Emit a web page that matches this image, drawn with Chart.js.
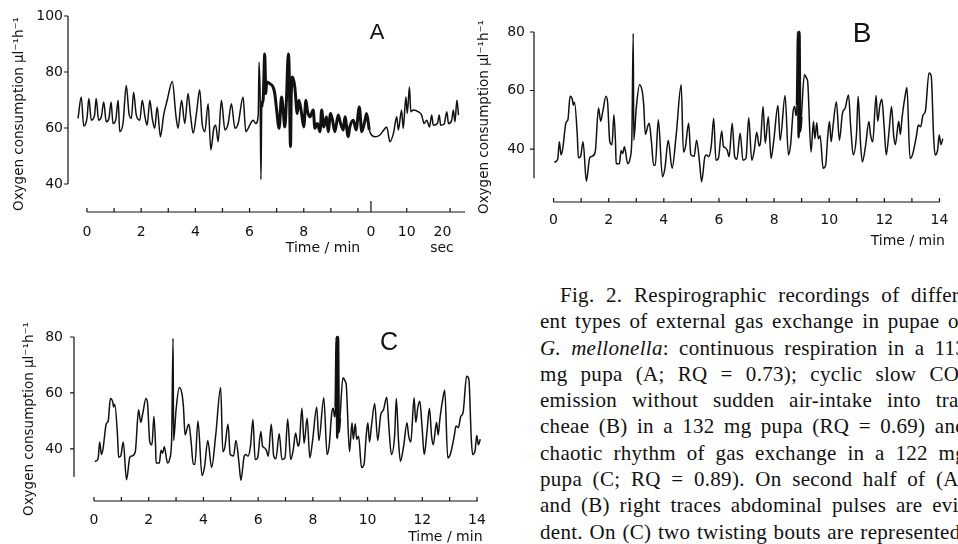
<!DOCTYPE html>
<html>
<head>
<meta charset="utf-8">
<script src="https://cdn.jsdelivr.net/npm/chart.js@4.4.1/dist/chart.umd.min.js"></script>
<style>
  html, body { margin: 0; padding: 0; background: #fff; }
  body { width: 958px; height: 544px; overflow: hidden; position: relative;
         font-family: "DejaVu Sans", sans-serif; color: #111; }
  canvas { position: absolute; }
  .lbl { position: absolute; font-size: 14px; line-height: 14px; white-space: nowrap;
         transform: translate(-50%, -50%); }
  .letter { position: absolute; line-height: 1; transform: translate(-50%, -50%);
            font-family: "Liberation Sans", Arial, sans-serif; }
  .caption { position: absolute; left: 540px; top: 282px; color: #111;
             font-family: "Liberation Serif", "Times New Roman", serif;
             font-size: 21px; line-height: 26.3px; letter-spacing: 0.3px; }
  .caption div { width: 426px; text-align: justify; text-align-last: justify; }
  .caption div.first { width: 406px; margin-left: 20px; }
</style>
</head>
<body>
<canvas id="chartA" width="480" height="270" style="left:0;top:0"></canvas>
<canvas id="chartB" width="483" height="260" style="left:475px;top:0"></canvas>
<canvas id="chartC" width="500" height="274" style="left:0;top:270px"></canvas>

<div class="letter" style="left:377px;top:32px;font-size:22px">A</div>
<div class="letter" style="left:862px;top:33px;font-size:28px">B</div>
<div class="letter" style="left:389px;top:341px;font-size:25px">C</div>
<div class="lbl" style="left:323px;top:247px">Time / min</div>
<div class="lbl" style="left:442px;top:247px">sec</div>

<div class="caption">
  <div class="first">Fig. 2. Respirographic recordings of differ-</div>
  <div>ent types of external gas exchange in pupae of</div>
  <div><i>G. mellonella</i>: continuous respiration in a 113</div>
  <div>mg pupa (A; RQ = 0.73); cyclic slow CO<sub style="font-size:13px;line-height:0">2</sub></div>
  <div>emission without sudden air-intake into tra-</div>
  <div>cheae (B) in a 132 mg pupa (RQ = 0.69) and</div>
  <div>chaotic rhythm of gas exchange in a 122 mg</div>
  <div>pupa (C; RQ = 0.89). On second half of (A)</div>
  <div>and (B) right traces abdominal pulses are evi-</div>
  <div>dent. On (C) two twisting bouts are represented.</div>
</div>

<script>
// panel A: time in minutes; after 10.48 the axis switches to seconds (0, 10, 20 s)
const traceA = [
  [-0.33, 63.4], [-0.21, 71.1], [-0.12, 60.7], [0, 63.4], [0.07, 70.5], [0.16, 62.8],
  [0.28, 64.6], [0.34, 70.5], [0.43, 62.8], [0.53, 64.0], [0.62, 69.3], [0.71, 62.2],
  [0.81, 63.4], [0.89, 69.3], [0.96, 61.6], [1.06, 62.8], [1.15, 69.9], [1.21, 58.7],
  [1.33, 61.6], [1.45, 75.2], [1.55, 65.2], [1.64, 63.4], [1.72, 72.8], [1.82, 64.6],
  [1.95, 62.8], [2.04, 69.9], [2.14, 64.0], [2.22, 61.0], [2.32, 69.9], [2.41, 63.4],
  [2.50, 59.9], [2.59, 67.5], [2.71, 56.9], [2.83, 64.6], [2.96, 69.9], [3.15, 76.6],
  [3.28, 64.6], [3.36, 59.9], [3.49, 69.9], [3.61, 61.6], [3.73, 72.3], [3.82, 64.6],
  [3.92, 58.1], [4.04, 65.2], [4.16, 73.7], [4.25, 61.6], [4.35, 58.7], [4.47, 68.7],
  [4.57, 52.2], [4.68, 59.9], [4.75, 61.0], [4.84, 55.1], [4.96, 69.9], [5.09, 59.3],
  [5.21, 61.6], [5.33, 68.7], [5.46, 59.9], [5.58, 61.6], [5.76, 71.1], [5.86, 58.7],
  [5.95, 59.9], [6.07, 62.2], [6.13, 62.8], [6.23, 61.6], [6.32, 64.6], [6.35, 83.5],
  [6.39, 71.1], [6.42, 41.6], [6.45, 67.5], [6.50, 69.9], [6.56, 86.4], [6.60, 72.3],
  [6.63, 76.4], [6.75, 75.8], [6.87, 74.6], [6.93, 72.3], [7.00, 66.4], [7.09, 59.9],
  [7.18, 71.1], [7.24, 66.4], [7.30, 60.4], [7.36, 69.9], [7.43, 86.4], [7.46, 81.7],
  [7.51, 53.4], [7.54, 72.3], [7.59, 78.2], [7.67, 74.6], [7.76, 65.2], [7.82, 69.9],
  [7.92, 65.2], [8.00, 60.4], [8.08, 69.9], [8.13, 66.4], [8.23, 64.0], [8.35, 66.4],
  [8.41, 59.9], [8.50, 61.6], [8.60, 58.7], [8.66, 66.4], [8.74, 60.4], [8.84, 64.0],
  [8.90, 58.7], [8.99, 65.2], [9.06, 62.8], [9.15, 58.7], [9.27, 64.6], [9.36, 61.6],
  [9.46, 59.3], [9.52, 64.0], [9.64, 56.9], [9.70, 60.4], [9.83, 62.8], [9.93, 59.3],
  [10.05, 67.5], [10.14, 58.7], [10.26, 62.8], [10.32, 65.2], [10.42, 59.3], [10.50, 57.5],
  [10.63, 56.9], [10.81, 57.5], [10.91, 58.7], [11.06, 60.4], [11.18, 55.1], [11.31, 58.1],
  [11.43, 64.0], [11.49, 59.3], [11.61, 66.4], [11.67, 59.9], [11.77, 71.1], [11.82, 65.2],
  [11.90, 74.6], [11.95, 65.8], [12.04, 66.4], [12.23, 65.8], [12.35, 64.6], [12.44, 61.6],
  [12.54, 62.8], [12.64, 60.4], [12.72, 64.6], [12.78, 61.0], [12.93, 61.6], [13.00, 64.6],
  [13.05, 61.0], [13.18, 61.4], [13.28, 65.8], [13.34, 61.6], [13.46, 62.8], [13.52, 66.4],
  [13.58, 62.2], [13.65, 69.9], [13.71, 64.6]
];

// panels B and C show the same recording
const traceBC = [
  [0.03, 35.5], [0.15, 36.5], [0.21, 42.5], [0.27, 38], [0.33, 40], [0.45, 49], [0.52, 50],
  [0.60, 58], [0.68, 57], [0.72, 55], [0.76, 56], [0.86, 44.8], [0.90, 37], [0.98, 37.5],
  [1.07, 42.5], [1.19, 29], [1.31, 37], [1.39, 37.5], [1.51, 39], [1.63, 54], [1.71, 49.5],
  [1.78, 52.5], [1.90, 58], [1.96, 56], [2.04, 42.5], [2.12, 41.5], [2.19, 51.7], [2.25, 41.4],
  [2.27, 35], [2.39, 35], [2.45, 39.5], [2.51, 38.5], [2.57, 40.8], [2.69, 35], [2.78, 37],
  [2.84, 43.7], [2.89, 79.5], [2.91, 43], [3.00, 54], [3.12, 62], [3.22, 59.5], [3.27, 55],
  [3.33, 45], [3.43, 48.2], [3.47, 48.8], [3.55, 42.5], [3.63, 34.5], [3.69, 34.5], [3.80, 50],
  [3.95, 30.5], [4.04, 33.5], [4.16, 43], [4.30, 33.4], [4.45, 45], [4.63, 62], [4.71, 39],
  [4.78, 40.5], [4.90, 48.8], [4.98, 38], [5.10, 37.5], [5.19, 43], [5.30, 35], [5.37, 28.8],
  [5.49, 37.4], [5.55, 38], [5.63, 37.4], [5.72, 41], [5.81, 50.5], [5.89, 36.2], [5.98, 36.8],
  [6.10, 46.2], [6.16, 41], [6.22, 40.5], [6.30, 39.6], [6.37, 37.4], [6.48, 48.8], [6.57, 37.4],
  [6.65, 36.5], [6.77, 45.4], [6.87, 36.2], [6.98, 36.8], [7.08, 50.7], [7.19, 36.2], [7.28, 39.5],
  [7.37, 45.7], [7.46, 41], [7.51, 42.5], [7.60, 54.5], [7.68, 42], [7.79, 51], [7.89, 36.8],
  [7.99, 43], [8.14, 54.9], [8.22, 43], [8.40, 58.3], [8.52, 38], [8.60, 41.5], [8.69, 52.8],
  [8.75, 54.5], [8.79, 51.5], [8.83, 55], [8.87, 80], [8.89, 44], [8.92, 80], [8.95, 46],
  [8.99, 51], [9.10, 65.4], [9.19, 64], [9.22, 63], [9.34, 39], [9.43, 49.4], [9.48, 43.5],
  [9.55, 49], [9.60, 43.5], [9.67, 44.5], [9.78, 33.4], [9.87, 34.5], [9.95, 44.8], [10.01, 49.4],
  [10.07, 42.5], [10.14, 48], [10.26, 56.2], [10.37, 43], [10.48, 52.2], [10.58, 54], [10.70, 58.5],
  [10.78, 47.6], [10.87, 38], [10.99, 45], [11.05, 58], [11.13, 43], [11.20, 35.6], [11.32, 41.2],
  [11.44, 49.4], [11.50, 44.8], [11.58, 42.5], [11.70, 58.3], [11.76, 49.5], [11.84, 55], [11.91, 57],
  [11.99, 48], [12.07, 38], [12.17, 46], [12.26, 54.5], [12.34, 44.5], [12.40, 41.5], [12.52, 49.5],
  [12.58, 45], [12.64, 50.5], [12.76, 58.5], [12.82, 61], [12.93, 36.8], [13.02, 38], [13.17, 44.8],
  [13.23, 48.2], [13.32, 47.6], [13.40, 51.5], [13.49, 53], [13.62, 66], [13.70, 65], [13.79, 43.7],
  [13.84, 38], [13.93, 39.5], [13.99, 44.8], [14.05, 41.5], [14.12, 43.5]
];

const yTicksA = [40, 60, 80, 100];
const yTicksBC = [40, 60, 80];
const xLabelPosA = [0, 2, 4, 6, 8, 10.48, 11.8, 13.12];
const xLabelsA = ['0', '2', '4', '6', '8', '0', '10', '20'];
const minuteTicksA = [0, 1, 2, 3, 4, 5, 6, 7, 8, 9, 10];
const secTicksA = [10.48, 11.8, 13.4];
const xLabelsBC = [0, 2, 4, 6, 8, 10, 12, 14];
const minuteTicksBC = [0, 1, 2, 3, 4, 5, 6, 7, 8, 9, 10, 11, 12, 13, 14];

const yTitle = 'Oxygen consumption µl⁻¹h⁻¹';

Chart.defaults.font.family = '"DejaVu Sans", sans-serif';
Chart.defaults.font.size = 14;
Chart.defaults.color = '#111';

// axis lines drawn apart from each other, ticks pointing into the plot
const sketchAxes = {
  id: 'sketchAxes',
  afterDraw(chart, args, o) {
    const { ctx } = chart;
    const x = chart.scales.x, y = chart.scales.y;
    const x0 = x.left, yb = y.bottom;
    ctx.save();
    ctx.strokeStyle = '#111';
    ctx.lineWidth = 1.2;
    ctx.beginPath();
    ctx.moveTo(x0, y.getPixelForValue(o.yFrom));
    ctx.lineTo(x0, y.getPixelForValue(o.yTo));
    o.yTicks.forEach(v => {
      const py = y.getPixelForValue(v);
      ctx.moveTo(x0 - 4, py);
      ctx.lineTo(x0, py);
    });
    ctx.moveTo(x.getPixelForValue(o.xFrom), yb);
    ctx.lineTo(x.getPixelForValue(o.xTo), yb);
    o.xTicks.forEach(v => {
      const px = x.getPixelForValue(v);
      ctx.moveTo(px, yb);
      ctx.lineTo(px, yb - 4);
    });
    (o.tallTicks || []).forEach(v => {
      const px = x.getPixelForValue(v);
      ctx.moveTo(px, yb);
      ctx.lineTo(px, yb - 11);
    });
    ctx.stroke();
    ctx.restore();
  }
};

function makeChart(id, c) {
  return new Chart(document.getElementById(id), {
    type: 'line',
    data: {
      datasets: [{
        data: c.trace.map(p => ({ x: p[0], y: p[1] })),
        borderColor: '#111',
        borderWidth: 1.5,
        pointRadius: 0,
        cubicInterpolationMode: 'monotone',
        clip: 6,
        segment: {
          borderWidth: s => (s.p0.parsed.x >= c.thick[0] && s.p1.parsed.x <= c.thick[1]) ? c.thickWidth : 1.5
        }
      }]
    },
    options: {
      responsive: false,
      animation: false,
      events: [],
      layout: { padding: c.pad },
      plugins: {
        legend: { display: false },
        tooltip: { enabled: false },
        sketchAxes: c.axes
      },
      scales: {
        x: {
          type: 'linear', min: c.xMin, max: c.xMax,
          grid: { display: false, drawTicks: false },
          border: { display: false },
          afterFit: s => { s.height = c.xHeight; },
          afterBuildTicks: s => { s.ticks = c.xLabelPos.map(v => ({ value: v })); },
          ticks: { autoSkip: false, maxRotation: 0, padding: c.xPad,
                   callback: (v, i) => c.xLabels[i] },
          title: c.xTitle
        },
        y: {
          min: c.yMin, max: c.yMax,
          grid: { display: false, drawTicks: false },
          border: { display: false },
          afterFit: s => { s.width = c.yWidth; },
          afterBuildTicks: s => { s.ticks = c.yTicks.map(v => ({ value: v })); },
          ticks: { padding: c.yPad },
          title: { display: true, text: yTitle, font: { size: 13.5, lineHeight: 1 },
                   padding: { top: c.yTitlePad, bottom: 0 } }
        }
      }
    },
    plugins: [sketchAxes]
  });
}

makeChart('chartA', {
  trace: traceA, xMin: -0.70, xMax: 13.95, yMin: 30, yMax: 100,
  pad: { top: 16, right: 15, left: 0, bottom: 0 },
  xHeight: 58, yWidth: 68, xPad: 11.6, yPad: 5, yTitlePad: 13,
  xLabelPos: xLabelPosA, xLabels: xLabelsA, yTicks: yTicksA,
  xTitle: { display: false },
  thick: [6.45, 10.45], thickWidth: 3,
  axes: { yFrom: 40, yTo: 100, yTicks: yTicksA, xFrom: 0, xTo: 13.95,
          xTicks: minuteTicksA.concat(secTicksA), tallTicks: [10.48] }
});

makeChart('chartB', {
  trace: traceBC, xMin: -0.71, xMax: 14.2, yMin: 21.9, yMax: 80,
  pad: { top: 32, right: 2, left: 0, bottom: 0 },
  xHeight: 58, yWidth: 59, xPad: 9.6, yPad: 9, yTitlePad: 3,
  xLabelPos: xLabelsBC, xLabels: xLabelsBC.map(String), yTicks: yTicksBC,
  xTitle: { display: true, text: 'Time / min', align: 'end', font: { size: 14, lineHeight: 1 },
            padding: { top: 0, bottom: 12 } },
  thick: [8.8, 9.0], thickWidth: 2.5,
  axes: { yFrom: 30, yTo: 80, yTicks: yTicksBC, xFrom: 0, xTo: 14, xTicks: minuteTicksBC }
});

makeChart('chartC', {
  trace: traceBC, xMin: -0.73, xMax: 14.2, yMin: 21.4, yMax: 80,
  pad: { top: 67, right: 17.5, left: 0, bottom: 0 },
  xHeight: 43, yWidth: 74, xPad: 10.6, yPad: 11, yTitlePad: 23,
  xLabelPos: xLabelsBC, xLabels: xLabelsBC.map(String), yTicks: yTicksBC,
  xTitle: { display: true, text: 'Time / min', align: 'end', font: { size: 14, lineHeight: 1 },
            padding: { top: 0, bottom: 0 } },
  thick: [8.8, 9.0], thickWidth: 2.5,
  axes: { yFrom: 30, yTo: 80, yTicks: yTicksBC, xFrom: 0, xTo: 14.03, xTicks: minuteTicksBC }
});
</script>
</body>
</html>
